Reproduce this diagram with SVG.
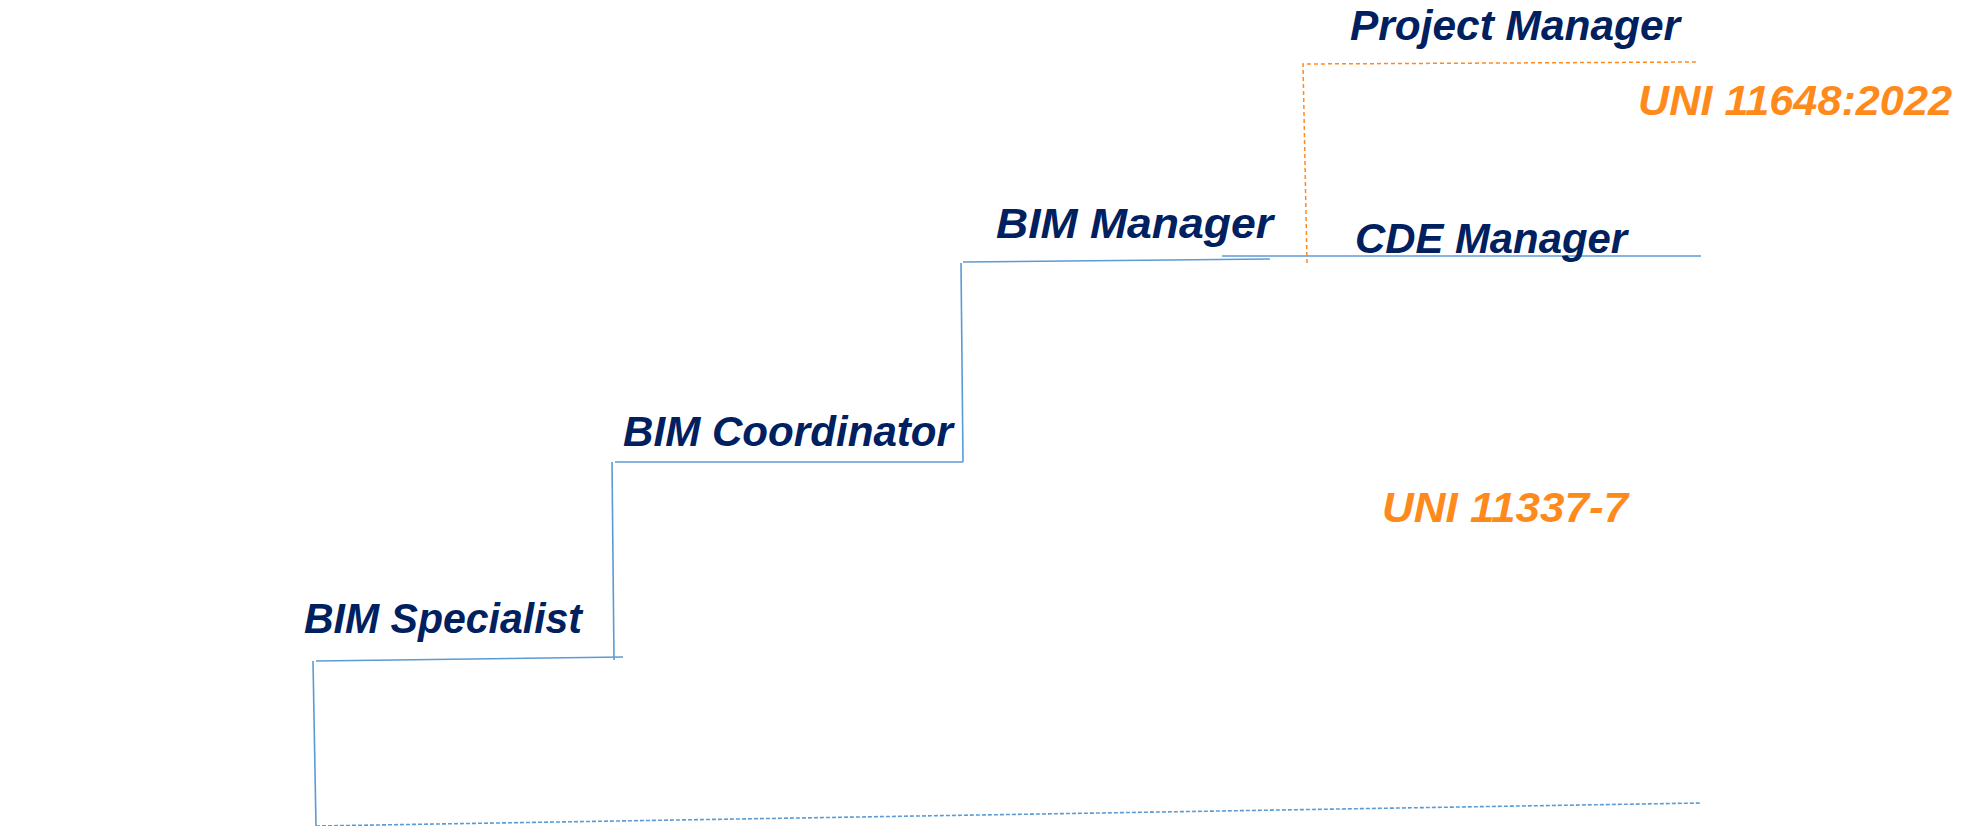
<svg xmlns="http://www.w3.org/2000/svg" width="1970" height="826" viewBox="0 0 1970 826">
  <style>
    .lbl { font-family: "Liberation Sans", Arial, sans-serif; font-weight: bold; font-style: italic; font-size: 42px; fill: #002060; }
    .std { font-family: "Liberation Sans", Arial, sans-serif; font-weight: bold; font-style: italic; font-size: 42px; fill: #FF8A1C; }
    .step { fill: none; stroke: #5B9BD5; stroke-width: 1.6; }
    .base { fill: none; stroke: #5B9BD5; stroke-width: 1.6; stroke-dasharray: 4 2; }
    .pm { fill: none; stroke: #FF8A1C; stroke-width: 1.5; stroke-dasharray: 4 3; }
  </style>
  <rect width="1970" height="826" fill="#ffffff"/>
  <g id="connectors">
    <path class="base" d="M316,826 L1701,803"/>
    <path class="step" d="M316,826 L313,661"/>
    <path class="step" d="M316,661 L623,657"/>
    <path class="step" d="M614,660 L612,462"/>
    <path class="step" d="M615,462 L963,462"/>
    <path class="step" d="M963,462 L961,263"/>
    <path class="step" d="M963,262 L1270,259"/>
    <path class="step" d="M1222,256 L1701,256"/>
    <path class="pm" d="M1307,263 L1303,64 L1698,62"/>
  </g>
  <g id="bim-specialist">
    <text class="lbl" x="304" y="633" textLength="278" lengthAdjust="spacingAndGlyphs">BIM Specialist</text>
  </g>
  <g id="bim-coordinator">
    <text class="lbl" x="623" y="446" textLength="330" lengthAdjust="spacingAndGlyphs">BIM Coordinator</text>
  </g>
  <g id="bim-manager">
    <text class="lbl" x="996" y="238" textLength="277" lengthAdjust="spacingAndGlyphs">BIM Manager</text>
  </g>
  <g id="cde-manager">
    <text class="lbl" x="1355" y="253" textLength="272" lengthAdjust="spacingAndGlyphs">CDE Manager</text>
  </g>
  <g id="project-manager">
    <text class="lbl" x="1350" y="40" textLength="330" lengthAdjust="spacingAndGlyphs">Project Manager</text>
  </g>
  <g id="uni-11648">
    <text class="std" x="1638" y="115" textLength="314" lengthAdjust="spacingAndGlyphs">UNI 11648:2022</text>
  </g>
  <g id="uni-11337">
    <text class="std" x="1382" y="522" textLength="246" lengthAdjust="spacingAndGlyphs">UNI 11337-7</text>
  </g>
</svg>
